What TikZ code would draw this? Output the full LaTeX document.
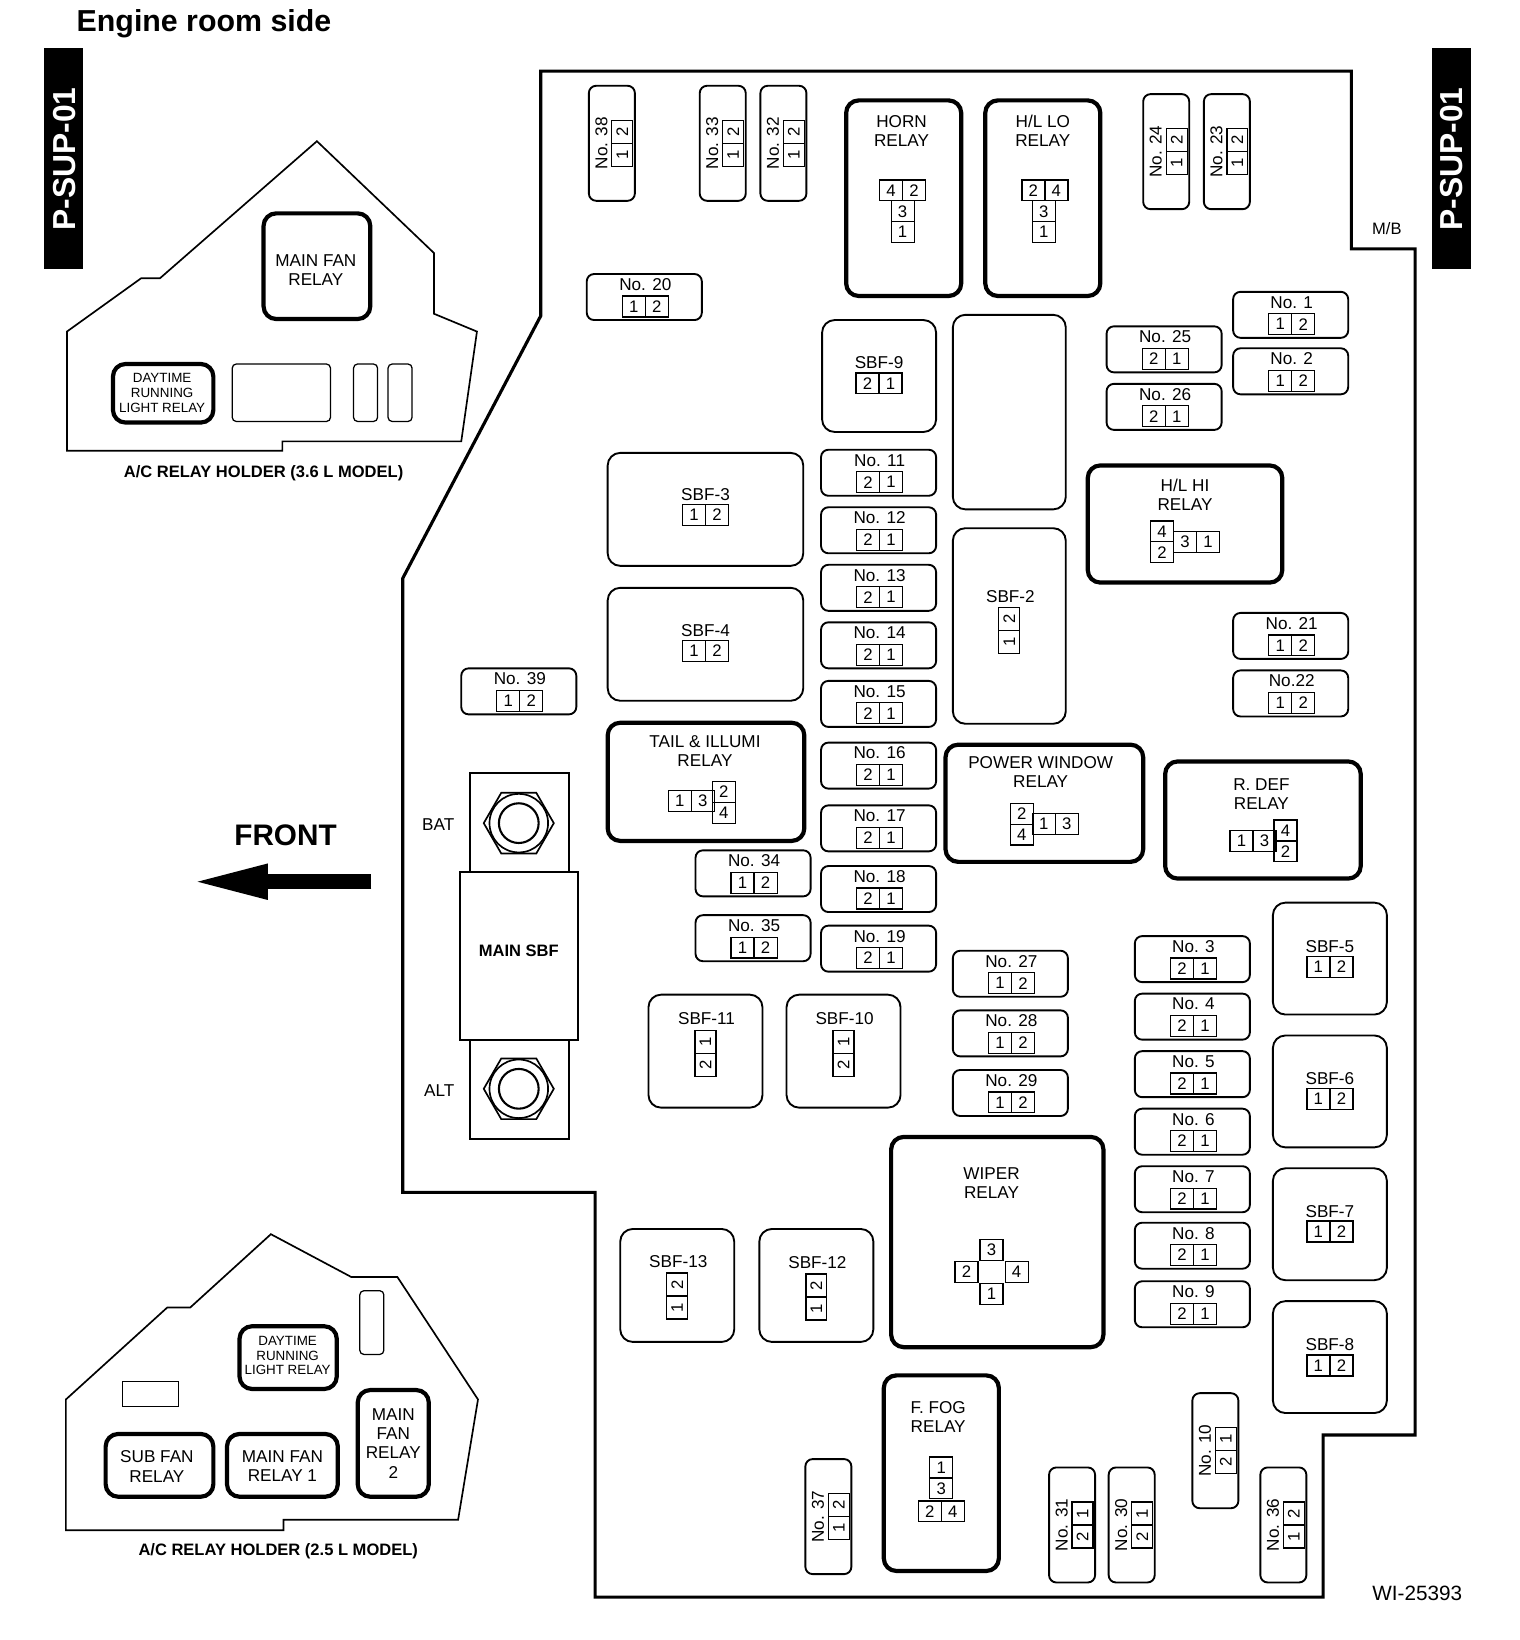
\documentclass[tikz,border=0pt]{standalone}
\usepackage{fontspec}
\setmainfont{Liberation Sans}
\usetikzlibrary{positioning,shapes.geometric,arrows.meta}
\tikzset{
  tag/.style={inner sep=0pt,align=center,font=\fontsize{8.2}{9.2}\selectfont},
  smalltag/.style={inner sep=0pt,align=center,font=\fontsize{6.4}{7.1}\selectfont},
  boldtag/.style={inner sep=0pt,font=\fontsize{7.9}{9}\selectfont\bfseries},
  pin/.style={draw,line width=.6pt,inner sep=0pt,outer sep=0pt,minimum width=11pt,minimum height=10pt,font=\fontsize{8}{9}\selectfont},
  fuse/.style={draw,line width=.9pt,rounded corners=3.5pt,inner sep=0pt},
  sbf/.style={draw,line width=.9pt,rounded corners=6pt,inner sep=0pt},
  relay/.style={draw,line width=2pt,rounded corners=6pt,inner sep=0pt},
  slot/.style={draw,line width=.6pt,rounded corners=2pt,inner sep=0pt},
  plate/.style={draw,line width=.9pt,inner sep=0pt},
  bar/.style={fill=black,text=white,inner sep=0pt,minimum width=18.5pt,minimum height=105.5pt},
  bartag/.style={rotate=90,text=white,inner sep=0pt,font=\fontsize{15.2}{16}\selectfont\bfseries},
  casing/.style={line width=1.5pt,line join=miter},
  holder/.style={line width=.8pt,line join=miter},
}
\newcommand{\bx}[6]{\node[#1,minimum width={(#5-#3)*.5pt},minimum height={(#6-#4)*.5pt}] (#2) at ({(#3+#5)/2},{(#4+#6)/2}) {};}
\newcommand{\hfuse}[6]{%
  \node[fuse,minimum width=55pt,minimum height=22pt] (#1) at ({#2+55},{#3+22}) {};
  \node[tag] (#1t) at ([xshift=.5pt,yshift=6pt]#1.center) {#4};
  \node[pin] (#1a) at ([xshift=-5pt,yshift=-4.5pt]#1.center) {#5};
  \node[pin] (#1b) at ([xshift=6pt,yshift=-4.5pt]#1.center) {#6};
}
\newcommand{\vfuse}[6]{%
  \node[fuse,minimum width=22pt,minimum height=55pt] (#1) at ({#2+22},{#3+55}) {};
  \node[tag,rotate=90] (#1t) at ([xshift=-5pt]#1.center) {#4};
  \node[pin,rotate=90] (#1a) at ([xshift=5pt,yshift=5.5pt]#1.center) {#5};
  \node[pin,rotate=90] (#1b) at ([xshift=5pt,yshift=-5.5pt]#1.center) {#6};
}
\newcommand{\sbfh}[9]{%
  \bx{sbf}{#1}{#2}{#3}{#4}{#5}
  \node[tag] (#1t) at ({(#2+#4)/2},{#3+#9}) {#6};
  \node[pin] (#1a) at ({(#2+#4)/2-11},{#3+#9+19.5}) {#7};
  \node[pin] (#1b) at ({(#2+#4)/2+11},{#3+#9+19.5}) {#8};
}
\newcommand{\sbfv}[9]{%
  \bx{sbf}{#1}{#2}{#3}{#4}{#5}
  \node[tag] (#1t) at ({(#2+#4)/2+1},{#3+#8}) {#6};
  \node[pin,rotate=90] (#1a) at ({(#2+#4)/2},{#3+#8+22}) {#7};
  \node[pin,rotate=90] (#1b) at ({(#2+#4)/2},{#3+#8+44}) {#9};
}
\begin{document}
\begin{tikzpicture}[x=.5pt,y=-.5pt]
\useasboundingbox (0,0) rectangle (1453,1568);
% title and side bars
\node[inner sep=0pt,font=\fontsize{14.5}{16}\selectfont\bfseries] (title) at (195,23) {Engine room side};
\node[bar] (barl) at (60.5,151.5) {};
\node[bar] (barr) at (1387.5,151.5) {};
\node[bartag] (barlt) at (62,152) {P-SUP-01};
\node[bartag] (barrt) at (1388,152) {P-SUP-01};
% main box casing
\draw[casing] (517,68)--(1292,68)--(1292,238)--(1353,238)--(1353,1372)--(1265,1372)--(1265,1527)--(569,1527)--(569,1140)--(385,1140)--(385,553)--(517,302)--cycle;
\node[inner sep=0pt,font=\fontsize{7.9}{9}\selectfont] (mb) at (1326,219) {M/B};
\node[inner sep=0pt,font=\fontsize{9.9}{11}\selectfont] (wi) at (1355,1523) {WI-25393};
% upper holder
\draw[holder] (64,317)--(135,266)--(153,266)--(303,135)--(415,242)--(415,300)--(456,317)--(441,422)--(270,422)--(270,431)--(64,431)--cycle;
\bx{relay}{hmainfan}{252}{204}{354}{305}
\node[tag] (hmainfant) at (302,258) {MAIN FAN\\RELAY};
\bx{relay}{hdaytime}{108}{348}{204}{404}
\node[smalltag] (hdaytimet) at (155,376) {DAYTIME\\RUNNING\\LIGHT RELAY};
\bx{slot}{hslota}{222}{348}{316}{403}
\bx{slot}{hslotb}{338}{348}{361}{403}
\bx{slot}{hslotc}{371}{348}{394}{403}
\node[boldtag] (holdera) at (252,452) {A/C RELAY HOLDER (3.6 L MODEL)};
% lower holder
\draw[holder] (63,1338)--(160,1250)--(182,1250)--(259,1180)--(336,1221)--(380,1221)--(457,1338)--(438,1453)--(271,1453)--(271,1463)--(63,1463)--cycle;
\bx{slot,sharp corners}{lslota}{117}{1321}{171}{1345}
\bx{slot}{lslotb}{344}{1234}{367}{1295}
\bx{relay}{ldaytime}{229}{1268}{322}{1328}
\node[smalltag] (ldaytimet) at (275,1296) {DAYTIME\\RUNNING\\LIGHT RELAY};
\bx{relay}{lsubfan}{101}{1371}{204}{1431}
\node[tag] (lsubfant) at (150,1402) {SUB FAN\\RELAY};
\bx{relay}{lmainfana}{217}{1371}{323}{1431}
\node[tag] (lmainfanat) at (270,1402) {MAIN FAN\\RELAY 1};
\bx{relay}{lmainfanb}{342}{1329}{410}{1431}
\node[tag] (lmainfanbt) at (376,1380) {MAIN\\FAN\\RELAY\\2};
\node[boldtag] (holderb) at (266,1483) {A/C RELAY HOLDER (2.5 L MODEL)};
% front arrow
\node[inner sep=0pt,font=\fontsize{14.2}{16}\selectfont\bfseries] (front) at (273,799) {FRONT};
\coordinate (fronta) at (355,843);
\coordinate (frontb) at (181,843);
\draw[-{Stealth[length=37.5pt,width=15pt,inset=0pt]},line width=7pt] (fronta)--(frontb);
% main fuse and bolts
\bx{plate}{bolta}{449}{739}{544}{834}
\bx{plate}{boltb}{449}{994}{544}{1089}
\bx{plate}{mainsbf}{440}{834}{553}{994}
\node[boldtag] (mainsbft) at (496,909) {MAIN SBF};
\node[tag] (bat) at (419,788) {BAT};
\node[tag] (alt) at (420,1043) {ALT};
\foreach \n/\y in {a/787,b/1041}{
  \node[draw,line width=.8pt,regular polygon,regular polygon sides=6,minimum size=33.5pt,inner sep=0pt] (hex\n) at (496,\y) {};
  \node[draw,line width=.8pt,circle,minimum size=28pt,inner sep=0pt] (ringo\n) at (496,\y) {};
  \node[draw,line width=1pt,circle,minimum size=19pt,inner sep=0pt] (ringi\n) at (496,\y) {};
}
% vertical fuses
\vfuse{f38}{563}{82}{No. 38}{2}{1}
\vfuse{f33}{669}{82}{No. 33}{2}{1}
\vfuse{f32}{727}{82}{No. 32}{2}{1}
\vfuse{f24}{1093}{90}{No. 24}{2}{1}
\vfuse{f23}{1151}{90}{No. 23}{2}{1}
\vfuse{f37}{770}{1395}{No. 37}{2}{1}
\vfuse{f31}{1003}{1403}{No. 31}{1}{2}
\vfuse{f30}{1060}{1403}{No. 30}{1}{2}
\vfuse{f10}{1140}{1332}{No. 10}{1}{2}
\vfuse{f36}{1205}{1403}{No. 36}{2}{1}
% horizontal fuses
\hfuse{f20}{561}{262}{No. 20}{1}{2}
\hfuse{f1}{1179}{279}{No. 1}{1}{2}
\hfuse{f2}{1179}{333}{No. 2}{1}{2}
\hfuse{f25}{1058}{312}{No. 25}{2}{1}
\hfuse{f26}{1058}{367}{No. 26}{2}{1}
\hfuse{f11}{785}{430}{No. 11}{2}{1}
\hfuse{f12}{785}{485}{No. 12}{2}{1}
\hfuse{f13}{785}{540}{No. 13}{2}{1}
\hfuse{f14}{785}{595}{No. 14}{2}{1}
\hfuse{f15}{785}{651}{No. 15}{2}{1}
\hfuse{f16}{785}{710}{No. 16}{2}{1}
\hfuse{f17}{785}{770}{No. 17}{2}{1}
\hfuse{f18}{785}{828}{No. 18}{2}{1}
\hfuse{f19}{785}{885}{No. 19}{2}{1}
\hfuse{f21}{1179}{586}{No. 21}{1}{2}
\hfuse{f22}{1179}{641}{No.22}{1}{2}
\hfuse{f34}{665}{813}{No. 34}{1}{2}
\hfuse{f35}{665}{875}{No. 35}{1}{2}
\hfuse{f39}{441}{639}{No. 39}{1}{2}
\hfuse{f27}{911}{909}{No. 27}{1}{2}
\hfuse{f28}{911}{966}{No. 28}{1}{2}
\hfuse{f29}{911}{1023}{No. 29}{1}{2}
\hfuse{f3}{1085}{895}{No. 3}{2}{1}
\hfuse{f4}{1085}{950}{No. 4}{2}{1}
\hfuse{f5}{1085}{1005}{No. 5}{2}{1}
\hfuse{f6}{1085}{1060}{No. 6}{2}{1}
\hfuse{f7}{1085}{1115}{No. 7}{2}{1}
\hfuse{f8}{1085}{1169}{No. 8}{2}{1}
\hfuse{f9}{1085}{1225}{No. 9}{2}{1}
% SBF blocks
\sbfh{s9}{786}{306}{895}{413}{SBF-9}{2}{1}{41}
\sbfh{s3}{581}{433}{768}{541}{SBF-3}{1}{2}{40}
\sbfh{s4}{581}{562}{768}{670}{SBF-4}{1}{2}{41}
\sbfh{s5}{1217}{863}{1326}{970}{SBF-5}{1}{2}{42}
\sbfh{s6}{1217}{990}{1326}{1097}{SBF-6}{1}{2}{41}
\sbfh{s7}{1217}{1117}{1326}{1224}{SBF-7}{1}{2}{41}
\sbfh{s8}{1217}{1244}{1326}{1351}{SBF-8}{1}{2}{42}
\bx{sbf}{blank}{911}{301}{1019}{487}
\sbfv{s2}{911}{505}{1019}{692}{SBF-2}{2}{65}{1}
\sbfv{s11}{620}{951}{729}{1059}{SBF-11}{1}{23}{2}
\sbfv{s10}{752}{951}{861}{1059}{SBF-10}{1}{23}{2}
\sbfv{s13}{593}{1175}{702}{1283}{SBF-13}{2}{31}{1}
\sbfv{s12}{726}{1175}{835}{1283}{SBF-12}{2}{32}{1}
% relays
\bx{relay}{horn}{809}{96}{919}{283}
\node[tag] (hornt) at (862,125) {HORN\\RELAY};
\node[pin] (hornd) at (852,182) {4};
\node[pin,right=0pt of hornd] (hornb) {2};
\node[pin] (hornc) at (863,202) {3};
\node[pin,below=0pt of hornc] (horna) {1};
\bx{relay}{hllo}{942}{96}{1052}{283}
\node[tag] (hllot) at (997,125) {H/L LO\\RELAY};
\node[pin] (hllob) at (988,182) {2};
\node[pin,right=0pt of hllob] (hllod) {4};
\node[pin] (hlloc) at (998,202) {3};
\node[pin,below=0pt of hlloc] (hlloa) {1};
\bx{relay}{hlhi}{1040}{445}{1226}{557}
\node[tag] (hlhit) at (1133,473) {H/L HI\\RELAY};
\node[pin] (hlhid) at (1111,508) {4};
\node[pin,below=0pt of hlhid] (hlhib) {2};
\node[pin] (hlhic) at (1133,518) {3};
\node[pin,right=0pt of hlhic] (hlhia) {1};
\bx{relay}{tail}{581}{691}{769}{804}
\node[tag] (tailt) at (674,718) {TAIL \& ILLUMI\\RELAY};
\node[pin] (taila) at (650,766) {1};
\node[pin,right=0pt of taila] (tailc) {3};
\node[pin] (tailb) at (692,757) {2};
\node[pin,below=0pt of tailb] (taild) {4};
\bx{relay}{pwr}{904}{712}{1093}{824}
\node[tag] (pwrt) at (995,738) {POWER WINDOW\\RELAY};
\node[pin] (pwrb) at (977,778) {2};
\node[pin,below=0pt of pwrb] (pwrd) {4};
\node[pin] (pwra) at (998,788) {1};
\node[pin,right=0pt of pwra] (pwrc) {3};
\bx{relay}{rdef}{1114}{728}{1301}{840}
\node[tag] (rdeft) at (1206,759) {R. DEF\\RELAY};
\node[pin] (rdefa) at (1187,804) {1};
\node[pin,right=0pt of rdefa] (rdefc) {3};
\node[pin] (rdefd) at (1229,794) {4};
\node[pin,below=0pt of rdefd] (rdefb) {2};
\bx{relay}{wiper}{852}{1087}{1055}{1288}
\node[tag] (wipert) at (948,1131) {WIPER\\RELAY};
\node[pin] (wiperc) at (948,1195) {3};
\node[pin] (wipera) at (948,1237) {1};
\node[pin] (wiperb) at (924,1216) {2};
\node[pin] (wiperd) at (972,1216) {4};
\bx{relay}{ffog}{845}{1315}{955}{1502}
\node[tag] (ffogt) at (897,1355) {F. FOG\\RELAY};
\node[pin] (ffoga) at (900,1403) {1};
\node[pin,below=0pt of ffoga] (ffogc) {3};
\node[pin] (ffogb) at (889,1445) {2};
\node[pin,right=0pt of ffogb] (ffogd) {4};
\end{tikzpicture}
\end{document}
